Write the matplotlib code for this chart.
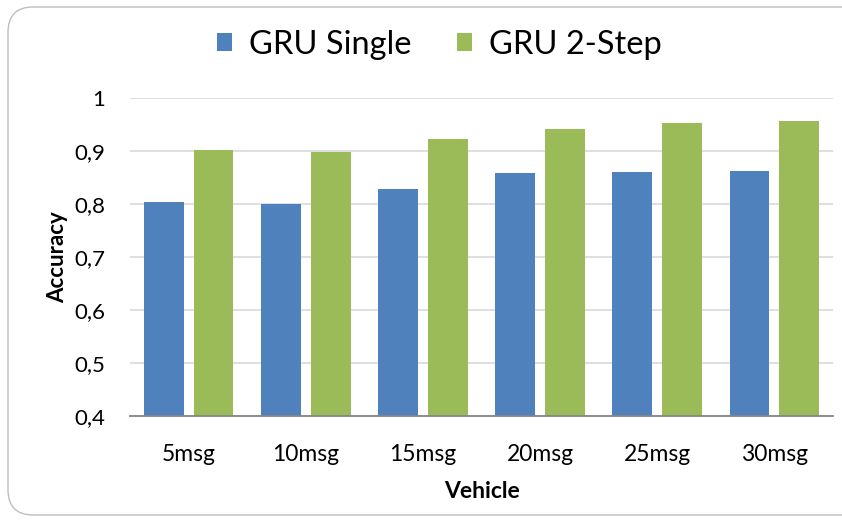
import matplotlib
matplotlib.use("Agg")
import matplotlib.pyplot as plt
import numpy as np
from matplotlib.patches import FancyBboxPatch
from matplotlib.ticker import FuncFormatter

categories = ["5msg", "10msg", "15msg", "20msg", "25msg", "30msg"]
gru_single = [0.803, 0.800, 0.829, 0.858, 0.861, 0.863]
gru_2step = [0.901, 0.899, 0.923, 0.942, 0.952, 0.957]
series_names = ["GRU Single", "GRU 2-Step"]

plt.rcParams['font.family'] = ['Lato', 'DejaVu Sans']

fig = plt.figure(figsize=(8.42, 5.22), dpi=100)
border = FancyBboxPatch((8/842, 1-515/522), 1.2, (515-7)/522,
                        boxstyle="round,pad=0,rounding_size=0.03",
                        transform=fig.transFigure, fc="none", ec="#BFBFBF", lw=1.0,
                        mutation_aspect=842/522, zorder=-1)
fig.patches.append(border)

ax = fig.add_axes([130/842, 1-416/522, 703/842, 318/522])
ax.set_facecolor("none")
x = np.arange(len(categories))
w = 0.34
off = 0.213
ax.bar(x - off, gru_single, w, color="#4F81BD", label=series_names[0], zorder=3)
ax.bar(x + off, gru_2step, w, color="#9BBB59", label=series_names[1], zorder=3)

ax.set_xlim(-0.5, len(categories) - 0.5)
ax.set_ylim(0.4, 1.0)
ax.set_yticks(np.arange(0.4, 1.01, 0.1))
ax.yaxis.set_major_formatter(FuncFormatter(lambda v, p: ("%g" % round(v, 1)).replace(".", ",")))
ax.set_xticks(x)
ax.set_xticklabels(categories)
ax.tick_params(axis='y', length=0, pad=18, labelsize=16)
ax.tick_params(axis='x', length=0, pad=20, labelsize=16.5)
ax.grid(axis='y', color="#D9D9D9", lw=1.2, zorder=0)
for s in ["top", "right", "left"]:
    ax.spines[s].set_visible(False)
ax.spines["bottom"].set_color("#868686")
ax.spines["bottom"].set_linewidth(1.3)
ax.spines["bottom"].set_zorder(4)

ax.set_ylabel("Accuracy", fontsize=16, fontweight='bold', labelpad=4)
ax.set_xlabel("Vehicle", fontsize=16.5, fontweight='bold', labelpad=12)

leg = fig.legend(loc="center", bbox_to_anchor=(439/842, 1-45/522), ncol=2, frameon=False,
                 fontsize=23.5, handlelength=0.48, handleheight=0.48, handletextpad=0.5,
                 columnspacing=1.4)

fig.savefig("out.png", dpi=100)
